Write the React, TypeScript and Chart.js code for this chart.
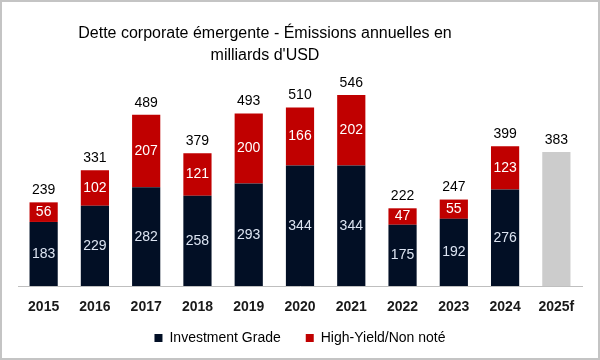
import React, { useEffect, useRef } from "react";
import { Chart, registerables } from "chart.js";

Chart.register(...registerables);

const categories = ["2015", "2016", "2017", "2018", "2019", "2020", "2021", "2022", "2023", "2024", "2025f"];
const investmentGrade = [183, 229, 282, 258, 293, 344, 344, 175, 192, 276, null];
const highYield = [56, 102, 207, 121, 200, 166, 202, 47, 55, 123, null];
const forecast = [null, null, null, null, null, null, null, null, null, null, 383];
const totals = [239, 331, 489, 379, 493, 510, 546, 222, 247, 399, 383];
const titleLines = ["Dette corporate émergente - Émissions annuelles en", "milliards d'USD"];

const FONT = "'Liberation Sans', Arial, sans-serif";

const titlePlugin = {
  id: "customTitle",
  afterDraw(chart: any) {
    const ctx = chart.ctx;
    ctx.save();
    ctx.font = `16px ${FONT}`;
    ctx.fillStyle = "#000000";
    ctx.textAlign = "center";
    ctx.textBaseline = "middle";
    titleLines.forEach((line, i) => ctx.fillText(line, 265, 34 + i * 22));
    ctx.restore();
  },
};

const labelPlugin = {
  id: "valueLabels",
  afterDatasetsDraw(chart: any) {
    const ctx = chart.ctx;
    ctx.save();
    ctx.font = `14px ${FONT}`;
    ctx.textAlign = "center";
    ctx.textBaseline = "middle";
    const colors = ["#dce4f2", "#ffffff"];
    [0, 1].forEach((di) => {
      const meta = chart.getDatasetMeta(di);
      meta.data.forEach((bar: any, i: number) => {
        const v = chart.data.datasets[di].data[i];
        if (v == null) return;
        const { x, y, base } = bar.getProps(["x", "y", "base"], true);
        ctx.fillStyle = colors[di];
        ctx.fillText(String(v), x, (y + base) / 2);
      });
    });
    ctx.fillStyle = "#000000";
    ctx.textBaseline = "bottom";
    totals.forEach((t, i) => {
      const x = chart.scales.x.getPixelForValue(i);
      const y = chart.scales.y.getPixelForValue(t);
      ctx.fillText(String(t), x, y - 5);
    });
    ctx.restore();
  },
};

export default function App() {
  const ref = useRef<HTMLCanvasElement>(null);
  useEffect(() => {
    document.body.style.margin = "0";
    const chart = new Chart(ref.current as HTMLCanvasElement, {
      type: "bar",
      data: {
        labels: categories,
        datasets: [
          { label: "Investment Grade", data: investmentGrade as any, backgroundColor: "#020f25", borderWidth: 0, stack: "s" },
          { label: "High-Yield/Non noté", data: highYield as any, backgroundColor: "#c00000", borderWidth: 0, stack: "s" },
          { label: "Prévision", data: forecast as any, backgroundColor: "#cccccc", borderWidth: 0, stack: "s" },
        ],
      },
      options: {
        animation: false,
        responsive: false,
        maintainAspectRatio: false,
        layout: { padding: { left: 18, right: 18, top: 76, bottom: 5 } },
        datasets: { bar: { categoryPercentage: 0.55, barPercentage: 1 } },
        plugins: {
          title: { display: false },
          legend: {
            display: true,
            position: "bottom",
            labels: {
              font: { family: FONT, size: 14 },
              color: "#000000",
              boxWidth: 8,
              boxHeight: 8,
              padding: 25,
              filter: (item: any) => item.datasetIndex !== 2,
            },
          },
          tooltip: { enabled: false },
        },
        scales: {
          x: {
            stacked: true,
            grid: { display: false, drawTicks: false },
            border: { display: true, color: "#bfbfbf", width: 1 },
            ticks: { font: { family: FONT, size: 14, weight: "bold" }, color: "#1a1a1a", padding: 13 },
            afterFit: (scale: any) => {
              scale.height = 20;
              scale._computeLabelArea = () => undefined;
            },
          },
          y: {
            stacked: true,
            display: false,
            min: 0,
            max: 600,
          },
        },
      },
      plugins: [labelPlugin, titlePlugin],
    });
    return () => chart.destroy();
  }, []);
  return (
    <div style={{ position: "absolute", left: 0, top: 0, width: 600, height: 360 }}>
      <canvas ref={ref} width={600} height={360} style={{ display: "block" }} />
      <div
        style={{
          position: "absolute",
          left: 0,
          top: 0,
          width: 600,
          height: 360,
          boxSizing: "border-box",
          border: "2px solid #c4c4c4",
          pointerEvents: "none",
        }}
      />
    </div>
  );
}
